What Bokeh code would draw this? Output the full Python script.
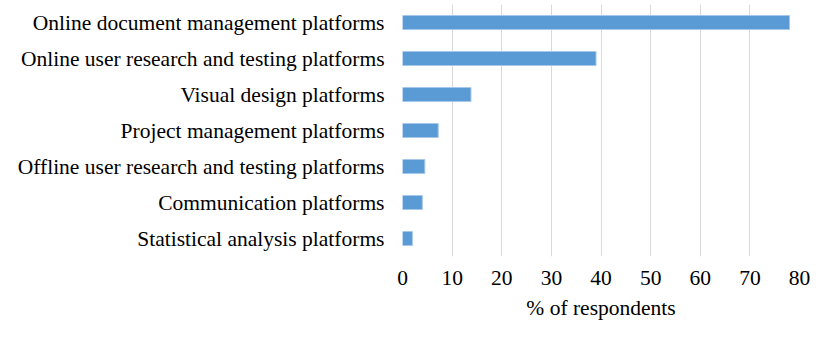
from bokeh.plotting import figure
from bokeh.models import Range1d, FixedTicker
from bokeh.embed import file_html
from bokeh.resources import INLINE

categories = [
    "Online document management platforms",
    "Online user research and testing platforms",
    "Visual design platforms",
    "Project management platforms",
    "Offline user research and testing platforms",
    "Communication platforms",
    "Statistical analysis platforms",
]
values = [78.0, 39.0, 13.8, 7.2, 4.5, 4.0, 2.0]
x_ticks = [0, 10, 20, 30, 40, 50, 60, 70, 80]
x_label = "% of respondents"

FONT = "Liberation Serif"
FS = "21.5px"

p = figure(width=814, height=324, output_backend="svg", toolbar_location=None,
           x_range=Range1d(0, 80), y_range=list(reversed(categories)),
           min_border_left=402, min_border_right=15, min_border_top=4, min_border_bottom=68)
p.outline_line_color = None
p.background_fill_color = "white"
p.border_fill_color = "white"
p.y_range.range_padding = 0
p.y_range.factor_padding = 0

p.hbar(y=categories, right=values, left=0, height=0.39, fill_color="#5B9BD5",
       line_color="#a8c8ea", line_width=1)

p.xaxis.ticker = FixedTicker(ticks=x_ticks)
p.xaxis.axis_label = x_label
p.xaxis.axis_label_text_font = FONT
p.xaxis.axis_label_text_font_size = FS
p.xaxis.axis_label_text_font_style = "normal"
p.xaxis.axis_label_text_color = "black"
p.xaxis.axis_label_standoff = 8
p.xaxis.major_label_text_font = FONT
p.xaxis.major_label_text_font_size = FS
p.xaxis.major_label_text_color = "black"
p.xaxis.major_label_standoff = 14
p.xaxis.major_tick_out = 0
p.xaxis.major_tick_in = 0
p.xaxis.axis_line_color = None
p.xaxis.major_tick_line_color = None
p.xaxis.minor_tick_line_color = None

p.yaxis.major_label_text_font = FONT
p.yaxis.major_label_text_font_size = FS
p.yaxis.major_label_text_color = "black"
p.yaxis.major_label_standoff = 18
p.yaxis.major_tick_out = 0
p.yaxis.major_tick_in = 0
p.yaxis.axis_line_color = None
p.yaxis.major_tick_line_color = None
p.yaxis.minor_tick_line_color = None

p.xgrid.grid_line_color = "#d9d9d9"
p.xgrid.grid_line_width = 1
p.ygrid.grid_line_color = None

open("out.html", "w").write(file_html(p, INLINE))
